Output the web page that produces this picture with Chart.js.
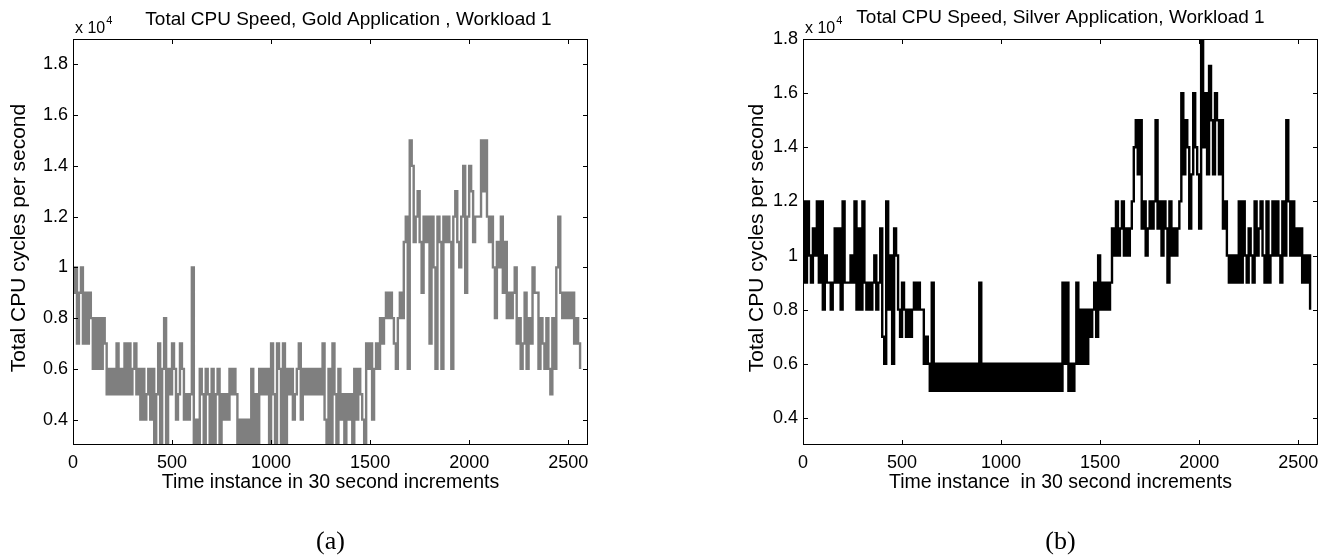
<!DOCTYPE html>
<html>
<head>
<meta charset="utf-8">
<script src="https://cdn.jsdelivr.net/npm/chart.js@4.4.1/dist/chart.umd.min.js"></script>
<style>
  html, body { margin: 0; padding: 0; background: #fff; }
  #wrap { position: relative; width: 1332px; height: 557px; overflow: hidden; }
  canvas { position: absolute; top: 0; }
</style>
</head>
<body>
<div id="wrap">
  <canvas id="c-gold" width="666" height="557" style="left:0"></canvas>
  <canvas id="c-silver" width="666" height="557" style="left:666px"></canvas>
</div>
<script>
// CPU speed per 30 s time instance, sampled every 10 instances, in thousands of cycles/s.
var timeStep = 10;

var goldK = [
  9, 10, 7, 9, 10, 7, 9, 7, 9, 8,
  6, 8, 6, 8, 6, 8, 7, 5, 6, 5,
  6, 5, 7, 5, 6, 5, 7, 5, 7, 5,
  6, 7, 5, 6, 4, 6, 4, 5, 6, 4,
  6, 3, 5, 7, 3, 6, 8, 3, 6, 5,
  7, 6, 4, 5, 7, 6, 4, 5, 4, 5,
  10, 3, 4, 3, 6, 5, 3, 6, 5, 3,
  6, 3, 5, 6, 3, 5, 4, 5, 4, 6,
  5, 6, 5, 3, 4, 3, 4, 3, 4, 3,
  6, 3, 5, 3, 6, 5, 6, 5, 6, 3,
  7, 5, 3, 7, 6, 3, 7, 3, 6, 5,
  6, 4, 5, 6, 7, 4, 6, 5, 6, 5,
  6, 5, 6, 5, 6, 5, 7, 4, 3, 6,
  3, 7, 5, 3, 6, 4, 5, 3, 5, 4,
  5, 3, 6, 4, 6, 5, 4, 3, 7, 6,
  7, 4, 6, 7, 6, 8, 7, 8, 9, 8,
  9, 8, 7, 6, 8, 9, 8, 11, 12, 6,
  15, 14, 11, 12, 13, 11, 9, 12, 11, 12,
  7, 12, 10, 6, 12, 11, 6, 12, 11, 12,
  11, 6, 12, 13, 11, 10, 12, 14, 9, 12,
  14, 13, 11, 12, 12, 12, 15, 13, 15, 12,
  11, 12, 10, 8, 11, 10, 12, 9, 11, 8,
  9, 8, 9, 10, 7, 8, 6, 7, 9, 6,
  8, 7, 10, 9, 9, 6, 8, 7, 6, 8,
  6, 5, 8, 6, 10, 12, 9, 8, 9, 8,
  9, 8, 9, 7, 8, 7, 6
];

var silverK = [
  12, 9, 12, 10, 9, 11, 10, 12, 9, 12,
  8, 10, 9, 9, 8, 9, 11, 9, 11, 8,
  12, 9, 9, 9, 10, 9, 12, 8, 11, 8,
  12, 9, 8, 9, 8, 9, 10, 8, 9, 11,
  7, 6, 12, 8, 10, 6, 11, 10, 8, 7,
  9, 8, 7, 8, 7, 8, 9, 8, 9, 8,
  8, 6, 7, 6, 5, 9, 5, 6, 5, 6,
  5, 6, 5, 6, 5, 6, 5, 6, 5, 6,
  5, 6, 5, 6, 5, 6, 5, 6, 5, 9,
  5, 6, 5, 6, 5, 6, 5, 6, 5, 6,
  5, 6, 5, 6, 5, 6, 5, 6, 5, 6,
  5, 6, 5, 6, 5, 6, 5, 6, 5, 6,
  5, 6, 5, 6, 5, 6, 5, 6, 5, 6,
  5, 9, 6, 9, 5, 6, 5, 6, 9, 6,
  8, 6, 8, 6, 8, 7, 8, 9, 7, 10,
  8, 9, 8, 9, 8, 9, 11, 10, 12, 10,
  11, 12, 10, 11, 10, 11, 12, 14, 15, 13,
  15, 11, 12, 10, 11, 12, 11, 12, 15, 11,
  12, 10, 12, 11, 9, 12, 10, 11, 10, 11,
  12, 16, 13, 15, 14, 11, 13, 16, 14, 13,
  11, 18, 14, 16, 13, 17, 15, 13, 16, 15,
  13, 15, 11, 12, 10, 9, 10, 9, 10, 9,
  12, 9, 12, 10, 9, 11, 10, 9, 12, 10,
  11, 12, 10, 9, 12, 9, 10, 12, 10, 12,
  10, 9, 12, 10, 15, 12, 10, 12, 10, 11,
  10, 11, 9, 10, 9, 10, 8
];

var xTickVals = [0, 500, 1000, 1500, 2000, 2500];
var yTickVals = [4000, 6000, 8000, 10000, 12000, 14000, 16000, 18000];
var yTickLabels = ['0.4', '0.6', '0.8', '1', '1.2', '1.4', '1.6', '1.8'];

var SANS = '"Liberation Sans", Arial, Helvetica, sans-serif';
var SERIF = '"Liberation Serif", "Times New Roman", serif';

function puntos(valores) {
  return valores.map(function (v, i) { return { x: i * timeStep, y: v * 1000 }; });
}

// box, inward ticks and all the free texts (title, labels, x10^4, panel letter)
var decor = {
  id: 'decor',
  afterDraw: function (chart) {
    var o = chart.options.plugins.decor;
    var a = chart.chartArea, ctx = chart.ctx;
    var xs = chart.scales.x, ys = chart.scales.y;
    ctx.save();
    ctx.strokeStyle = '#000';
    ctx.lineWidth = 1;
    ctx.strokeRect(Math.round(a.left) + 0.5, Math.round(a.top) + 0.5,
      Math.round(a.right - a.left) - 1, Math.round(a.bottom - a.top) - 1);
    ctx.beginPath();
    xTickVals.forEach(function (v) {
      var px = Math.round(xs.getPixelForValue(v)) + 0.5;
      ctx.moveTo(px, a.bottom); ctx.lineTo(px, a.bottom - 5);
      ctx.moveTo(px, a.top); ctx.lineTo(px, a.top + 5);
    });
    yTickVals.forEach(function (v) {
      var py = Math.round(ys.getPixelForValue(v)) + 0.5;
      ctx.moveTo(a.left, py); ctx.lineTo(a.left + 5, py);
      ctx.moveTo(a.right, py); ctx.lineTo(a.right - 5, py);
    });
    ctx.stroke();

    ctx.fillStyle = '#000';
    var cx = (a.left + a.right) / 2;
    ctx.font = '19px ' + SANS;
    ctx.textAlign = 'center';
    ctx.textBaseline = 'alphabetic';
    ctx.fillText(o.title, cx + o.titleDx, o.titleY);

    ctx.font = '16px ' + SANS;
    ctx.textAlign = 'left';
    ctx.fillText('x 10', a.left + 2, 33);
    var w = ctx.measureText('x 10').width;
    ctx.font = '11px ' + SANS;
    ctx.fillText('4', a.left + 3 + w, 24);

    ctx.font = '19.5px ' + SANS;
    ctx.textAlign = 'center';
    ctx.textBaseline = 'middle';
    ctx.fillText(o.xlabel, cx, 483);

    ctx.save();
    ctx.font = '21px ' + SANS;
    ctx.translate(o.ylabelX, (a.top + a.bottom) / 2 - 4);
    ctx.rotate(-Math.PI / 2);
    ctx.fillText('Total CPU cycles per second', 0, 0);
    ctx.restore();

    ctx.font = '26px ' + SERIF;
    ctx.fillText(o.letter, cx, 542);
    ctx.restore();
  }
};

function crear(id, cfg) {
  var canvas = document.getElementById(id);
  return new Chart(canvas.getContext('2d'), {
    type: 'line',
    data: { datasets: [{ data: puntos(cfg.values), borderColor: cfg.color, borderWidth: 2.4, borderJoinStyle: 'miter', stepped: true, pointRadius: 0, fill: false }] },
    plugins: [decor],
    options: {
      responsive: false, animation: false, devicePixelRatio: 1,
      layout: { padding: { left: cfg.padLeft, right: cfg.padRight, top: 39, bottom: 0 } },
      plugins: {
        legend: { display: false }, tooltip: { enabled: false },
        decor: { title: cfg.title, titleDx: cfg.titleDx, titleY: cfg.titleY, xlabel: cfg.xlabel, letter: cfg.letter, ylabelX: cfg.ylabelX }
      },
      scales: {
        x: {
          type: 'linear', min: 0, max: 2600,
          grid: { display: false, drawTicks: false }, border: { display: false },
          afterBuildTicks: function (s) { s.ticks = xTickVals.map(function (v) { return { value: v }; }); },
          afterFit: function (s) { s.height = 112; },
          ticks: { color: '#000', padding: 7, autoSkip: false, maxRotation: 0, font: { family: SANS, size: 18 },
            callback: function (v) { return String(v); } }
        },
        y: {
          type: 'linear', min: 3000, max: cfg.yMax,
          grid: { display: false, drawTicks: false }, border: { display: false },
          afterBuildTicks: function (s) { s.ticks = yTickVals.map(function (v) { return { value: v }; }); },
          afterFit: function (s) { s.width = cfg.yWidth; },
          ticks: { color: '#000', padding: 5, autoSkip: false, font: { family: SANS, size: 18 },
            callback: function (v) { var i = yTickVals.indexOf(v); return i < 0 ? '' : yTickLabels[i]; } }
        }
      }
    }
  });
}

crear('c-gold', {
  values: goldK, color: '#7f7f7f', yMax: 19000,
  title: 'Total CPU Speed, Gold Application , Workload 1', titleDx: 18, titleY: 25,
  xlabel: 'Time instance in 30 second increments', letter: '(a)',
  padLeft: 0, padRight: 78, yWidth: 73, ylabelX: 19
});
crear('c-silver', {
  values: silverK, color: '#000000', yMax: 18000,
  title: 'Total CPU Speed, Silver Application, Workload 1', titleDx: 0, titleY: 23,
  xlabel: 'Time instance  in 30 second increments', letter: '(b)',
  padLeft: 64, padRight: 14, yWidth: 73, ylabelX: 91
});
</script>
</body>
</html>
